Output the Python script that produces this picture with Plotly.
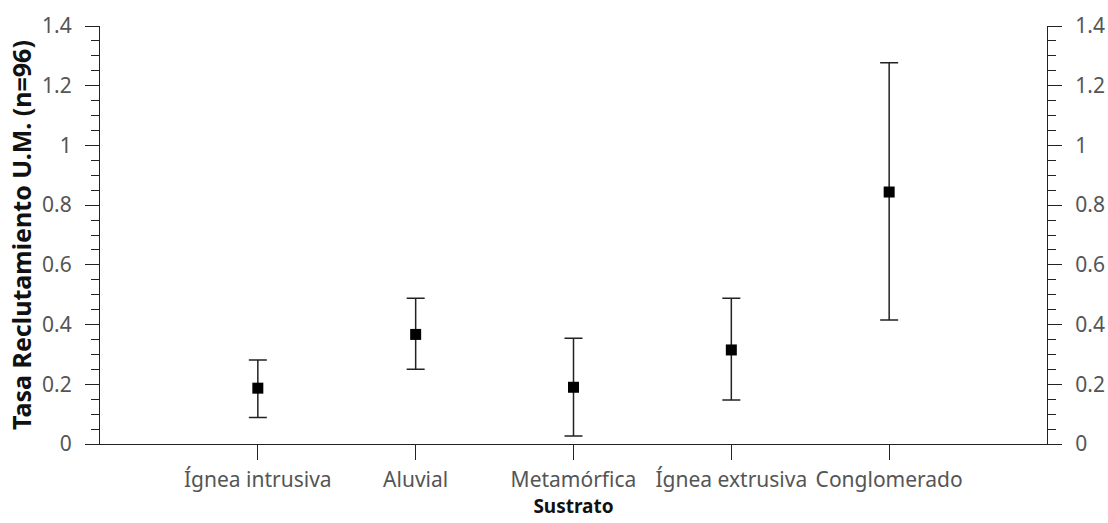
import plotly.graph_objects as go

categories = ["Ígnea intrusiva", "Aluvial", "Metamórfica", "Ígnea extrusiva", "Conglomerado"]
means = [0.187, 0.367, 0.190, 0.315, 0.844]
upper = [0.281, 0.488, 0.354, 0.488, 1.277]
lower = [0.089, 0.250, 0.027, 0.147, 0.415]

err_plus = [u - m for u, m in zip(upper, means)]
err_minus = [m - l for m, l in zip(means, lower)]

FONT = "Noto Sans"
TICKCOL = "#555555"
TICKSIZE = 21

fig = go.Figure()
fig.add_trace(go.Scatter(
    x=list(range(len(categories))), y=means, mode="markers",
    marker=dict(symbol="square", size=11, color="black"),
    error_y=dict(type="data", symmetric=False, array=err_plus, arrayminus=err_minus,
                 color="#222222", thickness=1.5, width=9),
    showlegend=False,
))
fig.add_trace(go.Scatter(x=[0], y=[0], yaxis="y2", mode="markers",
                         marker=dict(opacity=0), showlegend=False, hoverinfo="skip"))

yax_common = dict(
    range=[0, 1.4], dtick=0.2, tick0=0, showgrid=False, zeroline=False,
    showline=True, linecolor="#222222", linewidth=1.2,
    ticks="outside", ticklen=14, tickwidth=1.2, tickcolor="#222222",
    tickfont=dict(family=FONT, size=TICKSIZE, color=TICKCOL),
    ticklabelstandoff=9, automargin=False,
    minor=dict(dtick=0.05, ticks="outside", ticklen=8, tickwidth=1.2, tickcolor="#222222", showgrid=False),
)

fig.update_layout(
    width=1108, height=523,
    margin=dict(l=100, r=61, t=26, b=79, autoexpand=False),
    paper_bgcolor="white", plot_bgcolor="white",
    font=dict(family=FONT),
    xaxis=dict(
        range=[-1, 5], tickmode="array", tickvals=list(range(len(categories))), ticktext=categories,
        showgrid=False, zeroline=False, showline=True, linecolor="#222222", linewidth=1.2,
        ticks="outside", ticklen=15, tickwidth=1.2, tickcolor="#222222",
        tickfont=dict(family=FONT, size=TICKSIZE, color=TICKCOL),
        ticklabelstandoff=2, automargin=False,
        title=dict(text="<b>Sustrato</b>", font=dict(family=FONT, size=19, color="#111111"), standoff=7),
    ),
    yaxis=dict(
        **yax_common,
        title=dict(text="<b>Tasa Reclutamiento U.M. (n=96)</b>", font=dict(family=FONT, size=25, color="#111111"), standoff=3),
    ),
    yaxis2=dict(**yax_common, overlaying="y", side="right"),
)

fig.write_html("out.html")
